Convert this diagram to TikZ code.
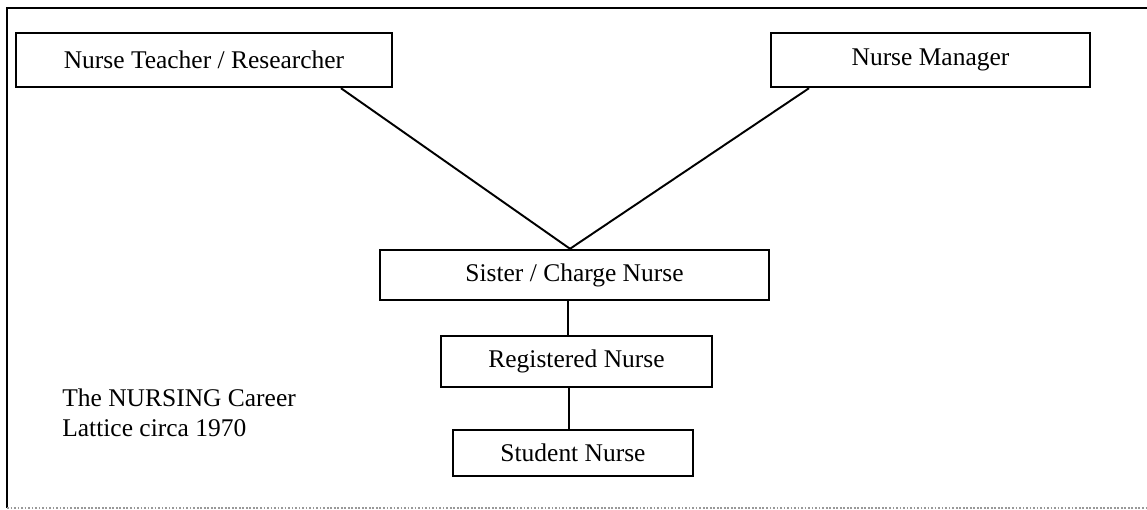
\documentclass[tikz,border=0pt]{standalone}
\usepackage{fontspec}
\setmainfont{Liberation Serif}
\usetikzlibrary{positioning,calc}

\begin{document}
\begin{tikzpicture}[x=0.02cm, y=-0.02cm,
  box/.style={rectangle, draw=black, line width=1.4pt, fill=white,
              text centered, font=\fontsize{14.5}{17}\selectfont, inner sep=2pt},
  link/.style={draw=black, line width=1.1pt},
  caption/.style={font=\fontsize{14.5}{17}\selectfont, align=left, inner sep=0pt}
]
\useasboundingbox (0,0) rectangle (1147,510);
% outer frame
\draw[line width=1.4pt] (1147,8) -- (7,8) -- (7,508);
\draw[black!40, densely dotted, line width=1pt] (7,508) -- (1147,508);

\node[box, minimum width=7.52cm, minimum height=1.08cm] (tchr) at (204,60) {Nurse Teacher / Researcher};
\node[box, minimum width=6.38cm, minimum height=1.08cm] (mgr) at (930.5,60) {Nurse Manager};
\node[box, minimum width=7.78cm, minimum height=1cm] (sis) at (574.5,275) {Sister / Charge Nurse};
\node[box, minimum width=5.42cm, minimum height=1.02cm] (reg) at (576.5,361.5) {Registered Nurse};
\node[box, minimum width=4.8cm, minimum height=0.92cm] (stu) at (573,453) {Student Nurse};

\node[caption, anchor=west] (cap) at (62,413) {The NURSING Career\\Lattice circa 1970};

\draw[link] ($(tchr.south west)!0.862!(tchr.south east)$) -- ([xshift=-0.09cm]sis.north);
\draw[link] ($(mgr.south west)!0.122!(mgr.south east)$) -- ([xshift=-0.09cm]sis.north);
\draw[link] ([xshift=-0.13cm]sis.south) -- ([xshift=-0.17cm]reg.north);
\draw[link] ([xshift=-0.15cm]reg.south) -- ([xshift=-0.08cm]stu.north);
\end{tikzpicture}
\end{document}
